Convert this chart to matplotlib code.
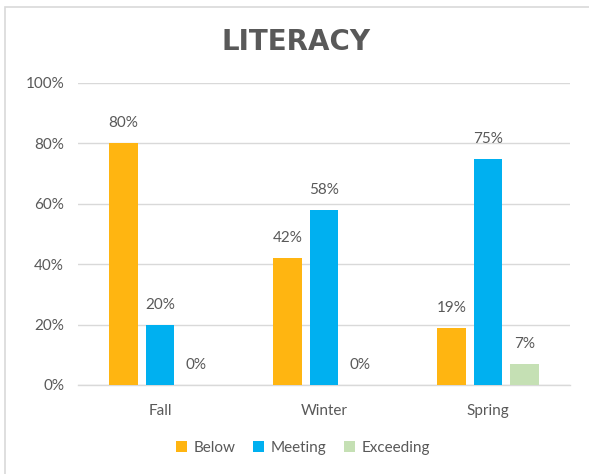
import numpy as np
import matplotlib
matplotlib.use("Agg")
import matplotlib.pyplot as plt
import matplotlib.patches as patches
from matplotlib.ticker import PercentFormatter

categories = ["Fall", "Winter", "Spring"]
series_names = ["Below", "Meeting", "Exceeding"]
below = [0.80, 0.42, 0.19]
meeting = [0.20, 0.58, 0.75]
exceeding = [0.00, 0.00, 0.07]
colors = ["#FFB511", "#00B0F0", "#C5E0B4"]

plt.rcParams['font.family'] = ['Lato', 'DejaVu Sans']
txt_color = "#595959"
grid_color = "#D9D9D9"

fig = plt.figure(figsize=(5.89, 4.74), dpi=100)
ax = fig.add_axes([78 / 589, 89 / 474, 492 / 589, 302 / 474])

# chart border (only left and top visible in the crop)
border = patches.Rectangle((5 / 589, -0.1), 1.2, 1 - 7 / 474 + 0.1,
                           transform=fig.transFigure, fill=False,
                           edgecolor=grid_color, linewidth=1.2, zorder=0)
fig.patches.append(border)

x = np.arange(len(categories))
width = 0.175
step = 0.222
for i, (vals, name) in enumerate(zip([below, meeting, exceeding], series_names)):
	pos = x + (i - 1) * step
	bars = ax.bar(pos, vals, width, color=colors[i], label=name, zorder=3)
	for xb, v in zip(pos, vals):
		ax.text(xb, v + 0.066, f"{v * 100:.0f}%", ha='center', va='center',
				fontsize=11, color=txt_color)

ax.set_xlim(-0.5, 2.5)
ax.set_ylim(0, 1)
ax.set_yticks(np.arange(0, 1.01, 0.2))
ax.yaxis.set_major_formatter(PercentFormatter(1.0, decimals=0))
ax.set_xticks(x)
ax.set_xticklabels(categories)
ax.tick_params(axis='both', length=0, labelsize=11, labelcolor=txt_color)
ax.tick_params(axis='y', pad=10)
ax.tick_params(axis='x', pad=14)
ax.grid(axis='y', color=grid_color, linewidth=1, zorder=0)
for s in ['left', 'right', 'top']:
	ax.spines[s].set_visible(False)
ax.spines['bottom'].set_color(grid_color)
ax.spines['bottom'].set_linewidth(1)

fig.text(296 / 589, 1 - 42 / 474, "LITERACY", ha='center', va='center',
		 fontsize=20, fontweight='bold', color=txt_color, family='DejaVu Sans')

fig.legend(loc='center', bbox_to_anchor=(303 / 589, 1 - 448 / 474), ncol=3,
		   frameon=False, fontsize=11, handlelength=0.7, handleheight=0.7,
		   handletextpad=0.4, columnspacing=1.2, labelcolor=txt_color)

fig.savefig("out.png", dpi=100)
